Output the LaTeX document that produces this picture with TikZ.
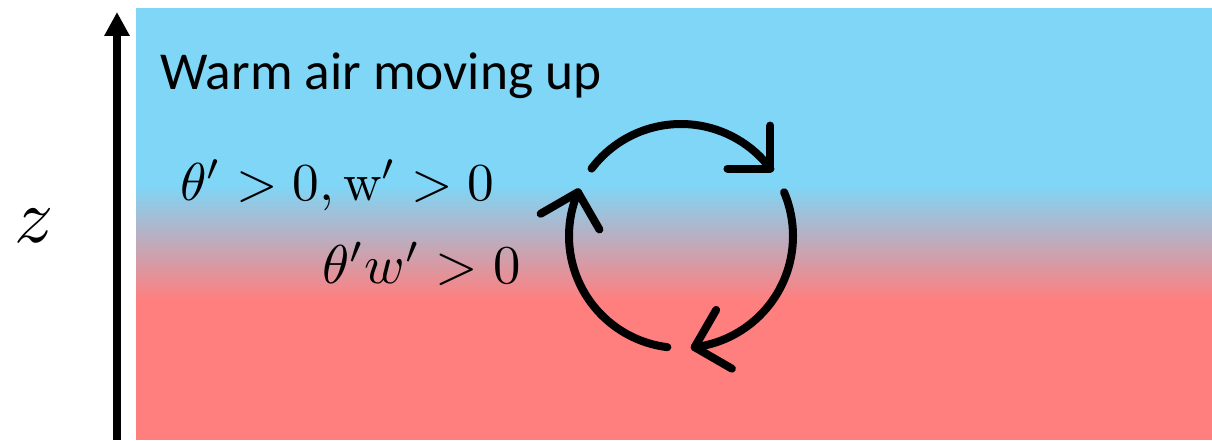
\documentclass[tikz,border=0pt]{standalone}
\usepackage{amsmath}
\usepackage{graphicx}
\usepackage{xcolor}
\usepackage{fontspec}
\newfontfamily\labelfont{Carlito}
\usepackage{tikz}
\usetikzlibrary{arrows.meta}

\definecolor{airblue}{RGB}{127,214,247}
\definecolor{airred}{RGB}{255,127,127}

\begin{document}
\begin{tikzpicture}[x=0.75pt, y=0.75pt,
    eddyline/.style={line width=6pt, line cap=round, line join=round},
    mathlabel/.style={inner sep=0pt}]
    \useasboundingbox (0,0) rectangle (1212,440);
    % background layers
    \fill[airred] (136,0) rectangle (1212,140);
    \shade[bottom color=airred, top color=airblue] (136,140) rectangle (1212,255);
    \fill[airblue] (136,255) rectangle (1212,432);
    % height axis
    \coordinate (zbot) at (117,0);
    \coordinate (ztop) at (117,428);
    \draw[line width=6pt, -{Triangle[length=18pt, width=18pt]}] (zbot) -- (ztop);
    \node[inner sep=0pt] (zlabel) at (34,214) {\scalebox{5.8}{$z$}};
    % labels
    \node[anchor=base west, inner sep=0pt, font=\labelfont\fontsize{40}{42}\selectfont] (warm) at (160,350) {Warm air moving up};
    \node[mathlabel, anchor=base west] (signs) at (180,240) {\scalebox{4}{$\theta' > 0, \mathrm{w}' > 0$}};
    \node[mathlabel, anchor=base west] (flux) at (322,157) {\scalebox{4.1}{$\theta' w' > 0$}};
    % eddy: three arcs, each with an open barb at its end
    \coordinate (eddy) at (681,204);
    \foreach \s/\e in {143/37, 23/-83, -97/-203} {
      \draw[eddyline] (eddy) ++(\s:112) arc[start angle=\s, end angle=\e, radius=112];
      \draw[eddyline] (eddy) ++(\e:112) ++(\e+53:43) -- ++(\e+233:43) -- ++(\e+143:43);
    }
\end{tikzpicture}
\end{document}
